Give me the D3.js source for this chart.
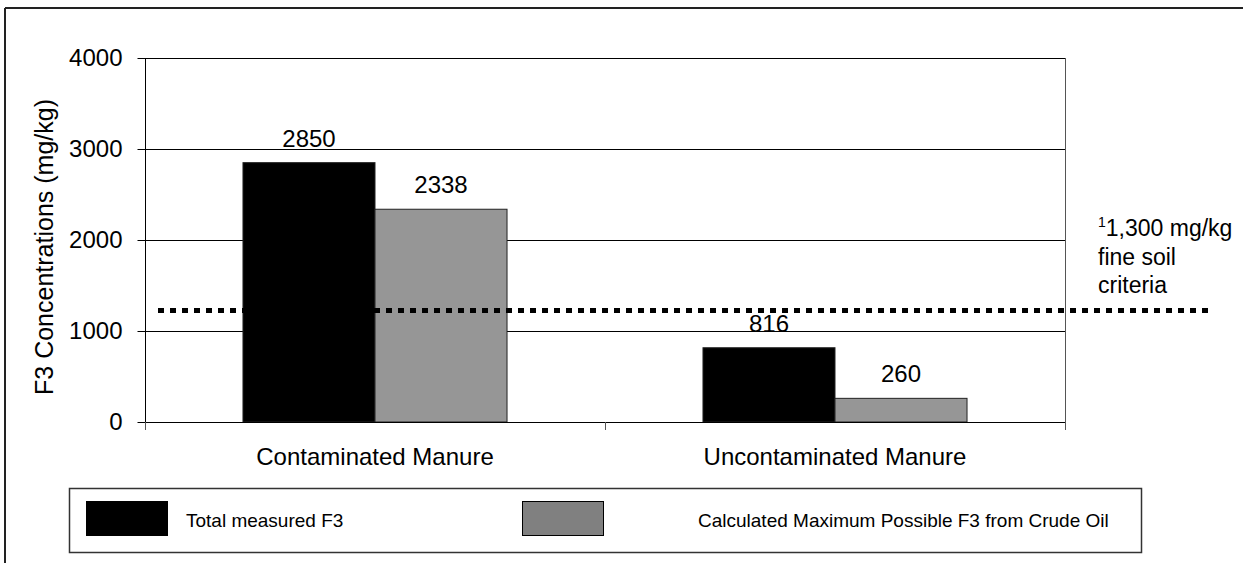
<!DOCTYPE html>
<html>
<head>
<meta charset="utf-8">
<script src="https://cdn.jsdelivr.net/npm/d3@7"></script>
<style>
  html, body { margin: 0; padding: 0; background: #fff; }
  svg { display: block; font-family: Arial, "Liberation Sans", sans-serif; }
</style>
</head>
<body>
<svg id="chart" width="1243" height="563"></svg>
<script>
// ---- data ----
const categories = ["Contaminated Manure", "Uncontaminated Manure"];
const seriesNames = ["Total measured F3", "Calculated Maximum Possible F3 from Crude Oil"];
const totalMeasured = [2850, 816];
const calculatedMax = [2338, 260];
const yTicks = [0, 1000, 2000, 3000, 4000];
const criteriaValue = 1225;
const criteriaLabel = ["1,300 mg/kg", "fine soil", "criteria"];
const yTitle = "F3 Concentrations (mg/kg)";

const barColors = ["#000000", "#969696"];
const legendColors = ["#000000", "#808080"];

const svg = d3.select("#chart");
const W = 1243, H = 563;
const plot = {left: 145, right: 1065, top: 58, bottom: 422};

// outer frame (top and left edges visible)
svg.append("line").attr("x1", 5).attr("x2", W).attr("y1", 8).attr("y2", 8)
  .attr("stroke", "#222").attr("stroke-width", 2);
svg.append("line").attr("x1", 5).attr("x2", 5).attr("y1", 8).attr("y2", H)
  .attr("stroke", "#222").attr("stroke-width", 2);

const y = d3.scaleLinear().domain([0, 4000]).range([plot.bottom, plot.top]);
const x0 = d3.scaleBand().domain(categories).range([plot.left, plot.right])
  .paddingInner(0.426).paddingOuter(0.213);
const x1 = d3.scaleBand().domain(seriesNames).range([0, x0.bandwidth()]);

// gridlines
svg.append("g").selectAll("line").data(yTicks.filter(d => d > 0)).join("line")
  .attr("x1", plot.left).attr("x2", plot.right)
  .attr("y1", d => Math.round(y(d)) + 0.5).attr("y2", d => Math.round(y(d)) + 0.5)
  .attr("stroke", "#000").attr("stroke-width", 1);

// right border of plot area
svg.append("line").attr("x1", plot.right + 0.5).attr("x2", plot.right + 0.5)
  .attr("y1", plot.top).attr("y2", plot.bottom)
  .attr("stroke", "#555").attr("stroke-width", 1);

// bars
const rows = categories.map((c, i) => ({cat: c, vals: [totalMeasured[i], calculatedMax[i]]}));
const groups = svg.append("g").selectAll("g").data(rows).join("g")
  .attr("transform", d => `translate(${x0(d.cat)},0)`);
groups.selectAll("rect").data(d => d.vals.map((v, j) => ({s: seriesNames[j], v, j}))).join("rect")
  .attr("x", d => x1(d.s)).attr("width", x1.bandwidth())
  .attr("y", d => y(d.v)).attr("height", d => y(0) - y(d.v))
  .attr("fill", d => barColors[d.j]).attr("stroke", "#222").attr("stroke-width", 1);
groups.selectAll("text").data(d => d.vals.map((v, j) => ({s: seriesNames[j], v, j}))).join("text")
  .attr("x", d => x1(d.s) + x1.bandwidth() / 2).attr("y", d => y(d.v) - 16)
  .attr("text-anchor", "middle").attr("font-size", 24).attr("fill", "#000")
  .text(d => d.v);

// criteria dotted line
svg.append("line").attr("x1", 158).attr("x2", 1210)
  .attr("y1", y(criteriaValue)).attr("y2", y(criteriaValue))
  .attr("stroke", "#000").attr("stroke-width", 5).attr("stroke-dasharray", "6,6");

// y axis
const yAxis = d3.axisLeft(y).tickValues(yTicks).tickSize(8).tickPadding(15).tickFormat(d3.format("d"));
const gy = svg.append("g").attr("transform", `translate(${plot.left + 0.5},0)`).call(yAxis);
gy.select(".domain").attr("stroke", "#000").attr("d", `M0,${plot.top}V${plot.bottom + 7}`);
gy.selectAll(".tick line").attr("stroke", "#000");
gy.selectAll(".tick text").attr("font-size", 24).attr("font-family", "Arial, 'Liberation Sans', sans-serif").attr("fill", "#000");

// x axis
svg.append("line").attr("x1", plot.left).attr("x2", plot.right)
  .attr("y1", plot.bottom + 0.5).attr("y2", plot.bottom + 0.5).attr("stroke", "#000");
const catEdges = [plot.left, (plot.left + plot.right) / 2, plot.right];
svg.append("g").selectAll("line").data(catEdges).join("line")
  .attr("x1", d => d + 0.5).attr("x2", d => d + 0.5)
  .attr("y1", plot.bottom).attr("y2", plot.bottom + 8).attr("stroke", "#555");
svg.append("g").selectAll("text").data(categories).join("text")
  .attr("x", d => x0(d) + x0.bandwidth() / 2).attr("y", 465)
  .attr("text-anchor", "middle").attr("font-size", 24).attr("fill", "#000")
  .text(d => d);

// y title
svg.append("text").attr("transform", "translate(53,247) rotate(-90)")
  .attr("text-anchor", "middle").attr("font-size", 25).attr("fill", "#000")
  .text(yTitle);

// criteria annotation
const ann = svg.append("text").attr("font-size", 23).attr("fill", "#000");
ann.append("tspan").attr("x", 1098).attr("y", 236).attr("font-size", 14).attr("dy", -9).text("1");
ann.append("tspan").attr("dy", 9).text(criteriaLabel[0]);
criteriaLabel.slice(1).forEach((t, i) => {
  svg.append("text").attr("x", 1098).attr("y", 265 + i * 28)
    .attr("font-size", 23).attr("fill", "#000").text(t);
});

// legend
svg.append("rect").attr("x", 69.5).attr("y", 488.5).attr("width", 1072).attr("height", 64)
  .attr("fill", "#fff").attr("stroke", "#333").attr("stroke-width", 1.5);
const legendItems = [
  {name: seriesNames[0], color: legendColors[0], sx: 86, tx: 186},
  {name: seriesNames[1], color: legendColors[1], sx: 522, tx: 698}
];
svg.append("g").selectAll("rect").data(legendItems).join("rect")
  .attr("x", d => d.sx + 0.5).attr("y", 501.5).attr("width", 81).attr("height", 34)
  .attr("fill", d => d.color).attr("stroke", "#000").attr("stroke-width", 1);
svg.append("g").selectAll("text").data(legendItems).join("text")
  .attr("x", d => d.tx).attr("y", 527).attr("text-anchor", "start")
  .attr("font-size", 19).attr("fill", "#000").text(d => d.name);
</script>
</body>
</html>
